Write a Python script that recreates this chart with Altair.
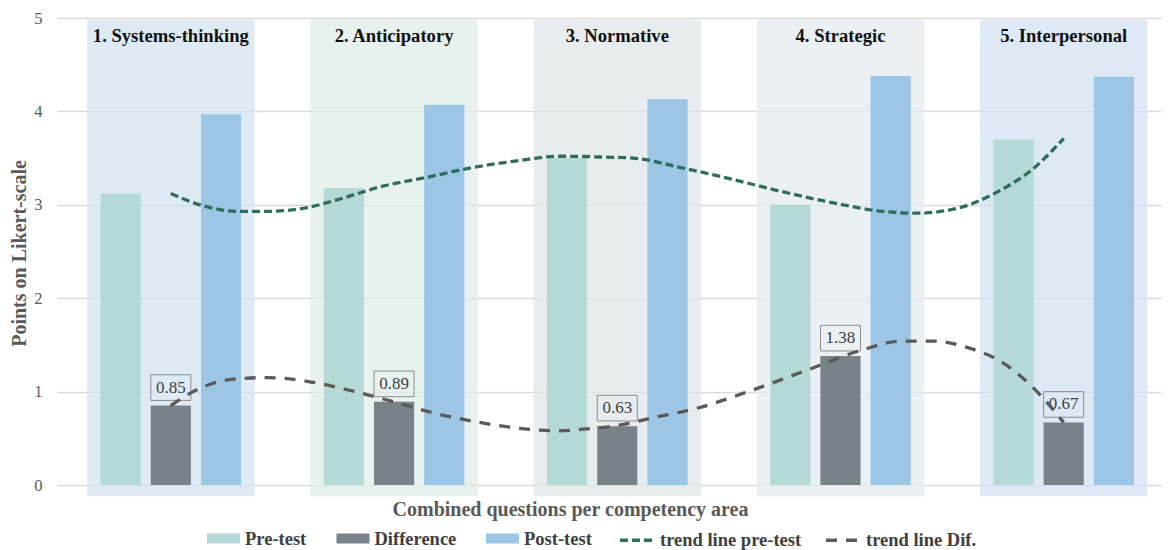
import altair as alt
import pandas as pd

# ---------------- data ----------------
categories = ["1. Systems-thinking", "2. Anticipatory", "3. Normative", "4. Strategic", "5. Interpersonal"]
pre_test = [3.12, 3.18, 3.50, 3.00, 3.70]
difference = [0.85, 0.89, 0.63, 1.38, 0.67]
post_test = [3.97, 4.07, 4.13, 4.38, 4.37]

series_names = ["Pre-test", "Difference", "Post-test"]
series_colors = ["#b5d9d6", "#778289", "#9bc6e5"]
panel_colors = ["#d4e4f0", "#dfeee8", "#dfe5e8", "#e3ebf0", "#d2e3f1"]

# trend lines
pre_trend_x = [1.00, 1.13, 1.30, 1.43, 1.61, 1.74, 1.95, 2.16, 2.31, 2.55, 2.74, 2.95,
               3.07, 3.30, 3.52, 3.74, 3.97, 4.19, 4.34, 4.52, 4.72, 4.86, 5.00]
pre_trend_y = [3.12, 3.00, 2.93, 2.93, 2.97, 3.05, 3.20, 3.30, 3.38, 3.47, 3.52, 3.51,
               3.50, 3.39, 3.27, 3.14, 3.02, 2.93, 2.91, 2.96, 3.16, 3.38, 3.71]
dif_trend_x = [1.00, 1.10, 1.27, 1.43, 1.61, 1.79, 2.00, 2.18, 2.36, 2.55, 2.73, 2.86,
               2.98, 3.16, 3.37, 3.61, 3.85, 4.09, 4.27, 4.42, 4.57, 4.72, 4.86, 5.00]
dif_trend_y = [0.85, 1.00, 1.13, 1.15, 1.11, 1.02, 0.89, 0.77, 0.68, 0.61, 0.58, 0.60,
               0.63, 0.72, 0.83, 1.02, 1.23, 1.44, 1.54, 1.54, 1.47, 1.32, 1.05, 0.67]
trend_names = ["trend line pre-test", "trend line Dif."]
trend_colors = ["#2f6d5b", "#5a5a5a"]
trend_dashes = [[8, 4], [11, 9]]

# ---------------- layout constants ----------------
SERIES_OFFSET = {"Pre-test": -0.225, "Difference": 0.0, "Post-test": 0.225}
BAR_HALF = 0.09
PANEL_HALF = 0.375
PANEL_TOP = 4.98
PANEL_BOTTOM = -0.12
TITLE_Y = 4.81
FONT = "Liberation Serif"
LEGEND_FONT_SIZE = 18.5

bar_rows = []
for i, cat in enumerate(categories):
    for s, vals in zip(series_names, [pre_test, difference, post_test]):
        c = i + 1 + SERIES_OFFSET[s]
        bar_rows.append({"cat": cat, "series": s, "value": vals[i],
                         "x0": c - BAR_HALF, "x1": c + BAR_HALF, "zero": 0})
bars_df = pd.DataFrame(bar_rows)

panels_df = pd.DataFrame({
    "cat": categories,
    "pos": list(range(1, len(categories) + 1)),
    "color": panel_colors,
})
panels_df["x0"] = panels_df["pos"] - PANEL_HALF
panels_df["x1"] = panels_df["pos"] + PANEL_HALF
panels_df["y0"] = PANEL_BOTTOM
panels_df["y1"] = PANEL_TOP
panels_df["ty"] = TITLE_Y

diff_df = pd.DataFrame({"pos": list(range(1, len(categories) + 1)), "value": difference})

trend_df = pd.concat([
    pd.DataFrame({"x": pre_trend_x, "y": pre_trend_y, "trend": trend_names[0]}),
    pd.DataFrame({"x": dif_trend_x, "y": dif_trend_y, "trend": trend_names[1]}),
])

xs = alt.Scale(domain=[0.49, 5.436], nice=False, zero=False)
ys = alt.Scale(domain=[0, 5], nice=False)

x_axis = alt.Axis(grid=False, labels=False, ticks=False, domain=False,
                  title="Combined questions per competency area",
                  titleFont=FONT, titleFontWeight="bold", titleFontSize=20,
                  titleColor="#595959", titleX=513, titleY=24,
                  titleAlign="center", titleBaseline="middle")
y_axis = alt.Axis(values=[0, 1, 2, 3, 4, 5], grid=True, gridColor="#d9d9d9", gridWidth=1.5,
                  domain=False, ticks=False, labelFont=FONT, labelFontSize=16.5,
                  labelColor="#595959", labelPadding=15,
                  title="Points on Likert-scale", titleFont=FONT, titleFontWeight="bold",
                  titleFontSize=20, titleColor="#595959", titleX=-38, titleY=235,
                  titleAngle=270, titleAlign="center", titleBaseline="middle")


def X(field):
    return alt.X(field, scale=xs, axis=x_axis)


def Y(field):
    return alt.Y(field, scale=ys, axis=y_axis)


panels = alt.Chart(panels_df).mark_rect(opacity=0.75).encode(
    x=X("x0:Q"), x2="x1:Q", y=Y("y0:Q"), y2="y1:Q",
    color=alt.Color("color:N", scale=None),
)

bars = alt.Chart(bars_df).mark_rect().encode(
    x=X("x0:Q"), x2="x1:Q", y=Y("value:Q"), y2="zero:Q",
    fill=alt.Fill("series:N", scale=alt.Scale(domain=series_names, range=series_colors),
                  legend=alt.Legend(title=None, orient="none", legendX=150, legendY=504,
                                    direction="horizontal",
                                    symbolType="M-1,-0.3H1V0.3H-1Z", symbolSize=1089,
                                    symbolStrokeWidth=0, symbolOpacity=1,
                                    labelFont=FONT, labelFontWeight="bold",
                                    labelFontSize=LEGEND_FONT_SIZE,
                                    labelColor="#404040", columnPadding=29.5, labelOffset=5)),
)

BOX_PATH = "M-1,-0.64H1V0.64H-1Z"
boxes = alt.Chart(diff_df).mark_point(shape=BOX_PATH, size=1600, filled=False,
                                      stroke="#8c8c8c", strokeWidth=1, opacity=1,
                                      yOffset=-18).encode(
    x=X("pos:Q"), y=Y("value:Q"),
)
labels = alt.Chart(diff_df).mark_text(dy=-18, font=FONT, fontSize=17, color="#404040",
                                      baseline="middle").encode(
    x=X("pos:Q"), y=Y("value:Q"),
    text=alt.Text("value:Q", format=".2f"),
)

trend_legend = alt.Legend(title=None, orient="none", legendX=561, legendY=504,
                          direction="horizontal", symbolType="stroke", symbolSize=1024,
                          symbolStrokeWidth=3.5, labelFont=FONT, labelFontWeight="bold",
                          labelFontSize=LEGEND_FONT_SIZE, labelColor="#404040",
                          columnPadding=17, labelOffset=6)
trends = alt.Chart(trend_df).mark_line(strokeWidth=3.3, interpolate="monotone").encode(
    x=X("x:Q"), y=Y("y:Q"),
    stroke=alt.Stroke("trend:N", scale=alt.Scale(domain=trend_names, range=trend_colors),
                      legend=trend_legend),
    strokeDash=alt.StrokeDash("trend:N", scale=alt.Scale(domain=trend_names, range=trend_dashes),
                              legend=trend_legend),
)

titles = alt.Chart(panels_df).mark_text(font=FONT, fontWeight="bold", fontSize=18.6,
                                        color="#111111", baseline="middle").encode(
    x=X("pos:Q"), y=Y("ty:Q"),
    text="cat:N",
)

chart = alt.layer(panels, bars, boxes, labels, trends, titles).properties(
    width=1104, height=467,
    padding={"left": 49, "top": 10, "right": 3, "bottom": 65},
    autosize=alt.AutoSizeParams(type="none"),
    background="white",
).configure_view(stroke=None)

chart.save("out.html", embed_options={"renderer": "svg", "actions": False})
